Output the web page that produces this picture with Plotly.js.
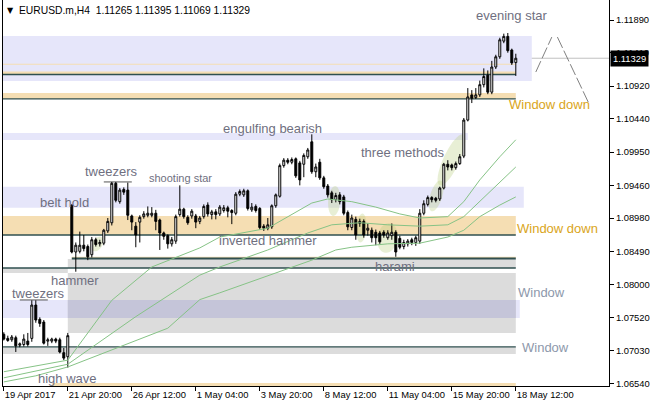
<!DOCTYPE html>
<html><head><meta charset="utf-8">
<script src="https://cdn.plot.ly/plotly-3.0.1.min.js"></script>
<style>html,body{margin:0;padding:0;background:#fff}#chart{width:651px;height:406px}</style>
</head><body><div id="chart"></div>
<script>
// ---------- DATA ----------
const open  = [1.0727,1.0721,1.0719,1.0722,1.0711,1.0712,1.0717,1.0721,1.0770,1.0749,1.0745,1.0717,1.0717,1.0720,1.0719,1.0700,1.0694,
1.0917,1.0848,1.0849,1.0858,1.0856,1.0844,1.0866,1.0860,1.0861,1.0879,1.0891,1.0949,1.0922,1.0940,1.0939,1.0901,1.0886,1.0892,1.0900,1.0902,1.0902,1.0905,1.0895,1.0876,1.0872,1.0860,1.0864,1.0903,1.0911,1.0899,1.0901,1.0901,1.0893,
1.0900,1.0917,1.0903,1.0907,1.0904,1.0909,1.0913,1.0909,1.0905,1.0933,1.0932,1.0938,1.0910,1.0915,1.0912,1.0886,1.0883,1.0885,1.0916,1.0930,1.0975,1.0983,1.0980,1.0985,1.0979,1.0977,1.0988,1.1010,1.0966,1.0980,
1.0957,1.0945,1.0935,1.0925,1.0932,1.0929,1.0906,1.0884,1.0896,1.0890,1.0893,1.0880,1.0880,1.0877,1.0876,1.0877,1.0869,1.0872,1.0877,1.0868,
1.0856,1.0860,1.0866,1.0862,1.0864,1.0905,1.0918,1.0928,1.0927,1.0926,1.0942,1.0977,1.0976,1.0972,1.0978,1.0989,1.1042,1.1079,1.1075,1.1079,
1.1094,1.1108,1.1083,1.1120,1.1135,1.1158,1.1165,1.1145,1.11265];
const high  = [1.0730,1.0725,1.0726,1.0725,1.0715,1.0727,1.0729,1.0777,1.0777,1.0752,1.0748,1.0722,1.0722,1.0722,1.0722,1.0707,1.0729,
1.0918,1.0862,1.0878,1.0873,1.0859,1.0870,1.0869,1.0866,1.0882,1.0898,1.0951,1.0951,1.0942,1.0943,1.0950,1.0903,1.0892,1.0902,1.0908,1.0915,1.0914,1.0910,1.0897,1.0878,1.0874,1.0870,1.0903,1.0946,1.0913,1.0902,1.0911,1.0904,1.0901,
1.0918,1.0921,1.0910,1.0911,1.0917,1.0917,1.0916,1.0911,1.0936,1.0940,1.0941,1.0940,1.0920,1.0918,1.0914,1.0889,1.0898,1.0918,1.0934,1.0978,1.0986,1.0986,1.0987,1.0987,1.0982,1.0993,1.1001,1.1021,1.0978,1.0985,
1.0960,1.0948,1.0938,1.0935,1.0936,1.0932,1.0909,1.0903,1.0900,1.0897,1.0896,1.0890,1.0884,1.0881,1.0879,1.0880,1.0880,1.0890,1.0880,1.0872,
1.0866,1.0867,1.0869,1.0872,1.0911,1.0924,1.0931,1.0930,1.0929,1.0944,1.0979,1.0983,1.0978,1.0981,1.0992,1.1045,1.1089,1.1086,1.1089,1.1100,
1.1118,1.1115,1.1129,1.1138,1.1163,1.1169,1.1170,1.1147,1.11395];
const low   = [1.0718,1.0716,1.0716,1.0701,1.0708,1.0709,1.0709,1.0716,1.0744,1.0738,1.0712,1.0710,1.0714,1.0714,1.0699,1.0689,1.0678,
1.0846,1.0819,1.0846,1.0849,1.0836,1.0840,1.0856,1.0856,1.0858,1.0876,1.0887,1.0921,1.0919,1.0932,1.0895,1.0880,1.0855,1.0862,1.0897,1.0899,1.0899,1.0880,1.0851,1.0866,1.0853,1.0856,1.0860,1.0900,1.0897,1.0888,1.0897,1.0883,1.0889,
1.0897,1.0900,1.0896,1.0896,1.0901,1.0906,1.0899,1.0889,1.0902,1.0930,1.0929,1.0909,1.0907,1.0906,1.0881,1.0879,1.0880,1.0882,1.0913,1.0928,1.0972,1.0977,1.0977,1.0957,1.0946,1.0958,1.0985,1.0963,1.0958,1.0954,
1.0941,1.0928,1.0920,1.0921,1.0918,1.0902,1.0880,1.0880,1.0866,1.0885,1.0869,1.0872,1.0862,1.0858,1.0860,1.0869,1.0866,1.0866,1.0841,1.0852,
1.0852,1.0856,1.0858,1.0857,1.0860,1.0902,1.0915,1.0921,1.0921,1.0923,1.0940,1.0968,1.0968,1.0969,1.0976,1.0986,1.1040,1.1067,1.1073,1.1076,
1.1090,1.1080,1.1080,1.1117,1.1132,1.1155,1.1141,1.1123,1.11069];
const close = [1.0720,1.0718,1.0723,1.0710,1.0713,1.0720,1.0712,1.0770,1.0748,1.0743,1.0714,1.0719,1.0720,1.0717,1.0701,1.0692,1.0725,
1.0848,1.0858,1.0858,1.0853,1.0841,1.0866,1.0859,1.0862,1.0880,1.0893,1.0949,1.0924,1.0939,1.0936,1.0902,1.0892,1.0873,1.0899,1.0904,1.0905,1.0905,1.0893,1.0876,1.0871,1.0860,1.0866,1.0900,1.0911,1.0900,1.0891,1.0908,1.0892,1.0898,
1.0915,1.0904,1.0907,1.0903,1.0914,1.0913,1.0908,1.0906,1.0933,1.0937,1.0938,1.0912,1.0914,1.0909,1.0884,1.0883,1.0888,1.0916,1.0932,1.0975,1.0983,1.0980,1.0984,1.0960,1.0954,1.0990,1.0998,1.0966,1.0973,1.0957,
1.0944,1.0932,1.0925,1.0931,1.0922,1.0905,1.0885,1.0898,1.0873,1.0893,1.0873,1.0883,1.0869,1.0869,1.0863,1.0873,1.0876,1.0877,1.0848,1.0855,
1.0862,1.0864,1.0862,1.0869,1.0905,1.0919,1.0928,1.0925,1.0924,1.0942,1.0977,1.0973,1.0972,1.0978,1.0988,1.1042,1.1076,1.1074,1.1079,1.1094,
1.1106,1.1083,1.1120,1.1135,1.1160,1.1165,1.1144,1.1126,1.11329];

const tickBars   = [0,16,32,48,64,80,96,112,128];
const tickLabels = ["19 Apr 2017","21 Apr 20:00","26 Apr 12:00","1 May 04:00","3 May 20:00","8 May 12:00","11 May 04:00","15 May 20:00","18 May 12:00"];
const priceTicks = [1.06540,1.07030,1.07520,1.08000,1.08490,1.08980,1.09460,1.09950,1.10440,1.10920,1.11410,1.11890];

// moving averages, read at sample bars
const maFastBars = [0,8,16,27,37,49,54,66,77,81,87,93,99,104,111,115,119,124,128];
const maFastVals = [1.0672,1.0680,1.0689,1.0777,1.0826,1.0854,1.0870,1.0883,1.0920,1.0926,1.0922,1.0914,1.0904,1.0898,1.0900,1.0922,1.0954,1.0988,1.1013];
const maMidBars  = [0,8,16,33,49,54,60,66,76,82,89,96,104,111,115,119,124,128];
const maMidVals  = [1.0663,1.0673,1.0683,1.0753,1.0814,1.0826,1.0839,1.0851,1.0876,1.0888,1.0891,1.0888,1.0886,1.0888,1.0900,1.0922,1.0950,1.0973];
const maSlowBars = [0,8,16,41,49,54,77,83,87,96,104,111,115,119,124,128];
const maSlowVals = [1.0657,1.0666,1.0679,1.0736,1.0778,1.0788,1.0836,1.0851,1.0855,1.0860,1.0861,1.0870,1.0880,1.0900,1.0917,1.0929];

// zones: [fromBar, toBar, lowPrice, highPrice]
const lavenderZones = [[-5,132,1.10994,1.11656],[-5,116,1.10127,1.10230],[-5,130,1.09131,1.09440],[-5,129,1.07510,1.07775]];
const grayZones     = [[16,128,1.08245,1.08378],[-5,16,1.08172,1.08245],[16,128,1.07290,1.08172],[-5,128,1.06980,1.07084]];
const overlapZones  = [[16,128,1.07510,1.07775]];
const wheatZones    = [[-5,128,1.11232,1.11248],[-5,128,1.11090,1.11134],[-5,128,1.10730,1.10818],[-5,128,1.08730,1.09010],[17,128,1.08385,1.08410],[12,128,1.06400,1.06555]];
const levelLines    = [[-5,128,1.11090],[-5,128,1.10730],[-5,128,1.08730],[17,128,1.08385],[-5,128,1.08245],[-5,128,1.07084]];
const tweezerLines  = [[25,32,1.09510],[4,11,1.07775]];
const currentPrice  = 1.11329;

// highlight ellipses: [centerBar, centerPrice]
const highlightBars   = [111.9,108.1,82.6,89.4,95.9,23.4];
const highlightPrices = [1.09833,1.09304,1.09230,1.08833,1.08686,1.08598];

// evening star projection
const projUpBars = [133,137], projUpVals = [1.11126,1.11640];
const projDnBars = [138.4,146.1], projDnVals = [1.11640,1.10685];

// pattern labels
const labelText  = ["evening star","engulfing bearish","three methods","tweezers","shooting star","belt hold","inverted hammer","hammer","harami","tweezers","high wave"];
const labelBars  = [126.9,67.1,99.9,26.9,44.1,15.1,66.1,17.9,97.9,8.6,15.9];
const labelPrices= [1.11950,1.10290,1.09936,1.09671,1.09568,1.09215,1.08642,1.08054,1.08260,1.07863,1.06614];
const windowDownBars = [125.9,127.9], windowDownPrices = [1.10656,1.08833];
const windowBars = [128.1,129.1], windowPrices = [1.07878,1.07069];

// ---------- BUILD ----------
const bars = open.map((_, k) => k);
const PX_PER_BAR = 4.0, PX_PER_PRICE = 6802;
const ellipseGeom = [[28,8,65],[16,6,73],[15,6,86],[14.5,5,86],[15,10,80],[8,5,60]];
function ellipsePath(ci, cp, a, b, ang){
  const th = ang*Math.PI/180; let d = '';
  for(let k=0;k<=40;k++){
    const t = 2*Math.PI*k/40, u=a*Math.cos(t), v=b*Math.sin(t);
    const dx=u*Math.cos(th)-v*Math.sin(th), dy=u*Math.sin(th)+v*Math.cos(th);
    d += (k?'L':'M') + (ci+dx/PX_PER_BAR).toFixed(3)+','+(cp+dy/PX_PER_PRICE).toFixed(6);
  }
  return d+'Z';
}
const shapes = [];
const rect=(z,c)=>({type:'rect',xref:'x',yref:'y',x0:z[0],x1:z[1],y0:z[2],y1:z[3],fillcolor:c,line:{width:0},layer:'below'});
lavenderZones.forEach(z=>shapes.push(rect(z,'#e6e6fa')));
grayZones.forEach(z=>shapes.push(rect(z,'#dcdcdc')));
overlapZones.forEach(z=>shapes.push(rect(z,'#c5c5d9')));
wheatZones.forEach(z=>shapes.push(rect(z,'#f5deb3')));
highlightBars.forEach((b,k)=>{
  const g=ellipseGeom[k];
  shapes.push({type:'path',xref:'x',yref:'y',path:ellipsePath(b,highlightPrices[k],g[0],g[1],g[2]),fillcolor:'rgba(185,205,125,0.32)',line:{width:0},layer:'below'});
});
levelLines.forEach((l,k)=>shapes.push({type:'line',xref:'x',yref:'y',x0:l[0],x1:l[1],y0:l[2],y1:l[2],line:{color:'#2f4f4f',width:(k===3?2:1.3)},layer:'below'}));
shapes.push({type:'line',xref:'paper',yref:'y',x0:0,x1:1,y0:currentPrice,y1:currentPrice,line:{color:'#c0c0c0',width:1},layer:'below'});
tweezerLines.forEach(l=>shapes.push({type:'line',xref:'x',yref:'y',x0:l[0],x1:l[1],y0:l[2],y1:l[2],line:{color:'#555',width:1},layer:'below'}));

const maLine = {color:'#86c386',width:1};
const traces = [
  {type:'scatter',mode:'lines',x:maSlowBars,y:maSlowVals,line:maLine,hoverinfo:'skip'},
  {type:'scatter',mode:'lines',x:maMidBars,y:maMidVals,line:maLine,hoverinfo:'skip'},
  {type:'scatter',mode:'lines',x:maFastBars,y:maFastVals,line:maLine,hoverinfo:'skip'},
  {type:'scatter',mode:'lines',x:projUpBars,y:projUpVals,line:{color:'#808080',width:1,dash:'12px,3px'},hoverinfo:'skip'},
  {type:'scatter',mode:'lines',x:projDnBars,y:projDnVals,line:{color:'#808080',width:1,dash:'12px,3px'},hoverinfo:'skip'},
  {type:'candlestick',x:bars,open:open,high:high,low:low,close:close,
   increasing:{line:{color:'#000',width:1},fillcolor:'#ffffff'},
   decreasing:{line:{color:'#000',width:1},fillcolor:'#000000'},hoverinfo:'skip'}
];

const tickFont = {family:'Liberation Sans, Arial',size:9.4,color:'#000'};
const labFont  = {family:'Liberation Sans, Arial',size:13,color:'#6f6f7f'};
const annotations = [];
labelText.forEach((t,k)=>annotations.push({xref:'x',yref:'y',x:labelBars[k],y:labelPrices[k],text:t,showarrow:false,
  xanchor:'center',yanchor:'middle',font: t==='shooting star'?{...labFont,size:11}:labFont}));
windowDownBars.forEach((b,k)=>annotations.push({xref:'x',yref:'y',x:b,y:windowDownPrices[k],text:'Window down',showarrow:false,xanchor:'left',yanchor:'middle',font:{family:'Liberation Sans, Arial',size:13,color:'#daa520'}}));
windowBars.forEach((b,k)=>annotations.push({xref:'x',yref:'y',x:b,y:windowPrices[k],text:'Window',showarrow:false,xanchor:'left',yanchor:'middle',font:{family:'Liberation Sans, Arial',size:13,color:'#8d98ab'}}));
annotations.push({xref:'paper',yref:'paper',x:0,y:1,xshift:2,yshift:-4,xanchor:'left',yanchor:'top',showarrow:false,text:'▼',font:{family:'DejaVu Sans',size:8,color:'#000'}});
annotations.push({xref:'paper',yref:'paper',x:0,y:1,xshift:14,yshift:-3,xanchor:'left',yanchor:'top',showarrow:false,
  text:'EURUSD.m,H4  '+[open[128],high[128],low[128],close[128]].map(v=>v.toFixed(5)).join(' '),font:{...tickFont,size:10.3}});
annotations.push({xref:'paper',yref:'y',x:1,y:currentPrice,xanchor:'left',yanchor:'middle',xshift:1,showarrow:false,
  text:currentPrice.toFixed(5),bgcolor:'#000',borderpad:2,font:{...tickFont,color:'#fff'}});

const layout = {
  width:651,height:406,margin:{l:3,r:42,t:0,b:20,pad:0},
  paper_bgcolor:'#fff',plot_bgcolor:'#fff',showlegend:false,dragmode:false,
  xaxis:{range:[-0.2,151.3],tickmode:'array',tickvals:tickBars,ticktext:tickLabels,ticks:'outside',ticklen:4,tickcolor:'#000',
    tickangle:0,ticklabelposition:'outside right',showgrid:false,zeroline:false,showline:true,linecolor:'#000',linewidth:1,
    tickfont:tickFont,rangeslider:{visible:false}},
  yaxis:{side:'right',range:[1.0651,1.12185],tickmode:'array',tickvals:priceTicks,ticktext:priceTicks.map(v=>v.toFixed(5)),
    ticks:'outside',ticklen:4,tickcolor:'#000',showgrid:false,zeroline:false,showline:true,mirror:true,linecolor:'#000',linewidth:1,
    tickfont:tickFont},
  shapes:shapes,annotations:annotations
};
Plotly.newPlot('chart',traces,layout,{staticPlot:true,displayModeBar:false});
</script></body></html>
